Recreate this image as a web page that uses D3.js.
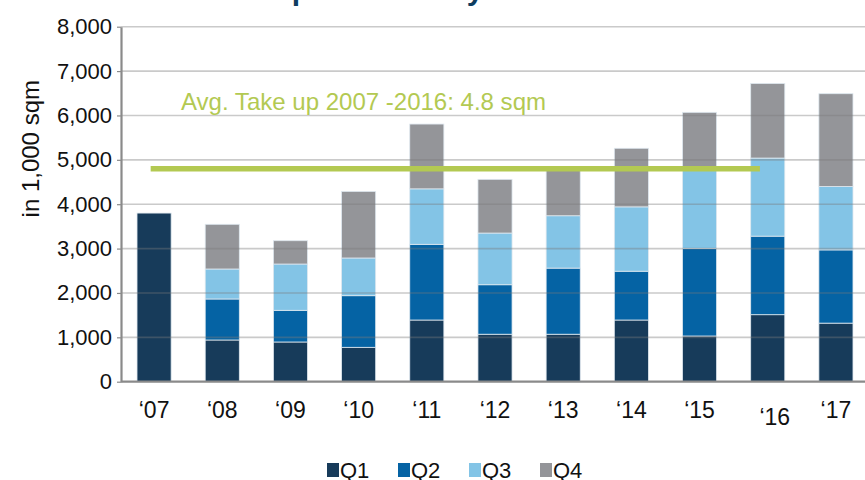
<!DOCTYPE html>
<html>
<head>
<meta charset="utf-8">
<script src="https://cdn.jsdelivr.net/npm/d3@7"></script>
<style>
    body { margin: 0; background: #fff; }
    svg { display: block; font-family: 'Liberation Sans', Arial, sans-serif; }
</style>
</head>
<body>
<script>
// take-up per year, split by quarter (in 1,000 sqm)
const years = ['\u201807', '\u201808', '\u201809', '\u201810', '\u201811', '\u201812', '\u201813', '\u201814', '\u201815', '\u201816', '\u201817'];
const q1 = [3800, 940, 895, 775, 1390, 1070, 1070, 1390, 1030, 1510, 1320];
const q2 = [0, 924, 714, 1163, 1706, 1115, 1490, 1100, 1970, 1770, 1650];
const q3 = [0, 676, 1043, 850, 1250, 1165, 1180, 1450, 1790, 1760, 1430];
const q4 = [0, 1007, 525, 1500, 1460, 1210, 1020, 1320, 1280, 1680, 2090];
const quarters = ['Q1', 'Q2', 'Q3', 'Q4'];
const yTicks = [0, 1000, 2000, 3000, 4000, 5000, 6000, 7000, 8000];
const avgValue = 4800;
const avgLabel = 'Avg. Take up 2007 -2016: 4.8 sqm';
const titleText = 'Office take-up in Germany';

const colors = ['#173b5a', '#0563a4', '#83c4e6', '#949599'];
const width = 865, height = 480;
const margins = {top: 26.7, left: 121, right: -4, bottom: 98.3};

const table = years.map(function(y, i){
    return {year: y, Q1: q1[i], Q2: q2[i], Q3: q3[i], Q4: q4[i]};
});
const series = d3.stack().keys(quarters)(table);

const svg = d3.select('body').append('svg')
    .attr('width', width)
    .attr('height', height);

const x = d3.scaleBand()
    .domain(years)
    .range([margins.left, width - margins.right])
    .paddingInner(0.5)
    .paddingOuter(0.235);

const y = d3.scaleLinear()
    .domain([0, 8000])
    .range([height - margins.bottom, margins.top]);

// title, cut off above the picture: only descenders show
svg.append('text')
    .attr('x', 110)
    .attr('y', 0)
    .attr('fill', '#0e3d60')
    .attr('font-size', 30)
    .attr('font-weight', 'bold')
    .text(titleText);

// bars
svg.append('g')
    .selectAll('g')
    .data(series)
    .join('g')
    .attr('fill', function(d, i){ return colors[i]; })
    .selectAll('rect')
    .data(function(d){ return d.filter(function(e){ return e[1] > e[0]; }); })
    .join('rect')
    .attr('x', function(d){ return x(d.data.year); })
    .attr('y', function(d){ return y(d[1]); })
    .attr('width', x.bandwidth())
    .attr('height', function(d){ return y(d[0]) - y(d[1]); })
    .attr('stroke', '#dfe8ef')
    .attr('stroke-width', 0.8);

// gridlines drawn over the bars
svg.append('g')
    .selectAll('line')
    .data(yTicks.slice(1))
    .join('line')
    .attr('x1', margins.left)
    .attr('x2', width)
    .attr('y1', function(d){ return y(d); })
    .attr('y2', function(d){ return y(d); })
    .attr('stroke', '#7a7a7a')
    .attr('stroke-opacity', 0.4)
    .attr('stroke-width', 1.6);

// y axis
const yAxis = svg.append('g')
    .attr('transform', 'translate(' + margins.left + ',0)')
    .call(d3.axisLeft(y)
        .tickValues(yTicks)
        .tickFormat(d3.format(','))
        .tickSize(4)
        .tickSizeOuter(0)
        .tickPadding(5));
yAxis.select('.domain')
    .attr('stroke', '#8a8a8a')
    .attr('stroke-width', 2.2);
yAxis.selectAll('.tick line')
    .attr('stroke', '#8a8a8a')
    .attr('stroke-width', 1.2);
yAxis.selectAll('.tick text')
    .attr('font-size', 22)
    .attr('fill', '#111');

// x axis
const xAxis = svg.append('g')
    .attr('transform', 'translate(0,' + y(0) + ')')
    .call(d3.axisBottom(x).tickSize(0).tickPadding(20));
xAxis.select('.domain')
    .attr('d', 'M' + margins.left + ',0H' + width)
    .attr('stroke', '#8a8a8a')
    .attr('stroke-width', 2.2);
xAxis.selectAll('.tick text')
    .attr('font-size', 23)
    .attr('fill', '#111')
    .attr('dy', function(d){ return d === '\u201816' ? '1.0em' : '0.71em'; })
    .attr('dx', function(d){ return d === '\u201816' ? 7 : 0; });

// y axis title
svg.append('text')
    .attr('transform', 'translate(39,' + y(5250) + ') rotate(-90)')
    .attr('text-anchor', 'middle')
    .attr('font-size', 24)
    .attr('fill', '#111')
    .text('in 1,000 sqm');

// average line with label
svg.append('line')
    .attr('x1', x(years[0]) + x.bandwidth() * 0.4)
    .attr('x2', x(years[9]) + x.bandwidth() * 0.27)
    .attr('y1', y(avgValue))
    .attr('y2', y(avgValue))
    .attr('stroke', '#b3c952')
    .attr('stroke-width', 5.5);

svg.append('text')
    .attr('x', 181)
    .attr('y', 110)
    .attr('fill', '#b3c952')
    .attr('font-size', 24)
    .attr('textLength', 365)
    .attr('lengthAdjust', 'spacingAndGlyphs')
    .text(avgLabel);

// legend
const legend = svg.append('g')
    .selectAll('g')
    .data(quarters)
    .join('g')
    .attr('transform', function(d, i){ return 'translate(' + (327 + i * 71) + ',463)'; });
legend.append('rect')
    .attr('width', 12)
    .attr('height', 14)
    .attr('fill', function(d, i){ return colors[i]; });
legend.append('text')
    .attr('x', 13)
    .attr('y', 15)
    .attr('font-size', 22)
    .attr('fill', '#111')
    .text(function(d){ return d; });
</script>
</body>
</html>
